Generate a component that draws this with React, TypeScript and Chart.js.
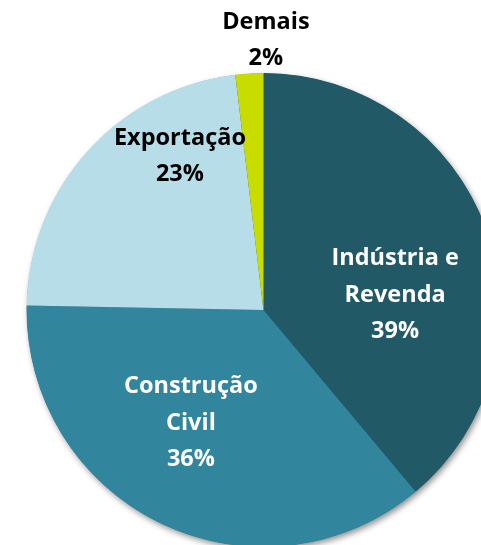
import React, { useEffect, useRef } from "react";
import { Chart, registerables } from "chart.js";

Chart.register(...registerables);

const categories = ["Indústria e Revenda", "Construção Civil", "Exportação", "Demais"];
const labelLines = [["Indústria e", "Revenda"], ["Construção", "Civil"], ["Exportação"], ["Demais"]];
const values = [38.9, 36.4, 22.8, 1.9];
const percentLabels = ["39%", "36%", "23%", "2%"];
const colors = ["#215967", "#31859C", "#B7DEE8", "#C8DC00"];
const textColors = ["#FFFFFF", "#FFFFFF", "#000000", "#000000"];
// label placement: angle from top (deg, clockwise), distance as fraction of radius
const labelAngles = [83.5, 212.7, 331.5, 0.5];
const labelDist = [0.559, 0.567, 0.739, 1.139];

const FONT = "bold 23.5px 'Open Sans', Lato, sans-serif";
const LINE = 36.5;

const shadowPlugin = {
  id: "pieShadow",
  beforeDatasetsDraw(chart: any) {
    const arc = chart.getDatasetMeta(0).data[0];
    if (!arc) return;
    const { x, y, outerRadius } = arc.getProps(["x", "y", "outerRadius"], true);
    const ctx = chart.ctx;
    ctx.save();
    ctx.shadowColor = "rgba(0,0,0,0.45)";
    ctx.shadowBlur = 6;
    ctx.shadowOffsetX = 2;
    ctx.shadowOffsetY = 3;
    ctx.fillStyle = "#215967";
    ctx.beginPath();
    ctx.arc(x, y, outerRadius - 0.5, 0, Math.PI * 2);
    ctx.fill();
    ctx.restore();
  },
};

const labelPlugin = {
  id: "pieLabels",
  afterDatasetsDraw(chart: any) {
    const meta = chart.getDatasetMeta(0);
    const ctx = chart.ctx;
    ctx.save();
    ctx.font = FONT;
    ctx.textAlign = "center";
    ctx.textBaseline = "middle";
    meta.data.forEach((arc: any, i: number) => {
      const { x, y, outerRadius } = arc.getProps(["x", "y", "outerRadius"], true);
      const a = (labelAngles[i] * Math.PI) / 180;
      const d = labelDist[i] * outerRadius;
      const cx = x + Math.sin(a) * d;
      const cy = y - Math.cos(a) * d;
      const lines = [...labelLines[i], percentLabels[i]];
      const start = cy - ((lines.length - 1) * LINE) / 2;
      ctx.fillStyle = textColors[i];
      lines.forEach((t, k) => ctx.fillText(t, cx, start + k * LINE));
    });
    ctx.restore();
  },
};

export default function App() {
  const ref = useRef<HTMLCanvasElement>(null);
  useEffect(() => {
    document.body.style.margin = "0";
    document.body.style.overflow = "hidden";
    const chart = new Chart(ref.current!, {
      type: "pie",
      data: {
        labels: categories,
        datasets: [
          {
            data: values,
            backgroundColor: colors,
            borderWidth: 0,
          },
        ],
      },
      options: {
        animation: false,
        responsive: false,
        devicePixelRatio: 1,
        layout: { padding: { left: 26.5, top: 73, right: 29.5, bottom: 13 } },
        plugins: { legend: { display: false }, tooltip: { enabled: false } },
      },
      plugins: [shadowPlugin, labelPlugin],
    });
    return () => chart.destroy();
  }, []);
  return (
    <div style={{ position: "absolute", left: 0, top: 0, width: 481, height: 545, overflow: "hidden", background: "#fff" }}>
      <canvas ref={ref} width={530} height={560} style={{ display: "block" }} />
    </div>
  );
}
